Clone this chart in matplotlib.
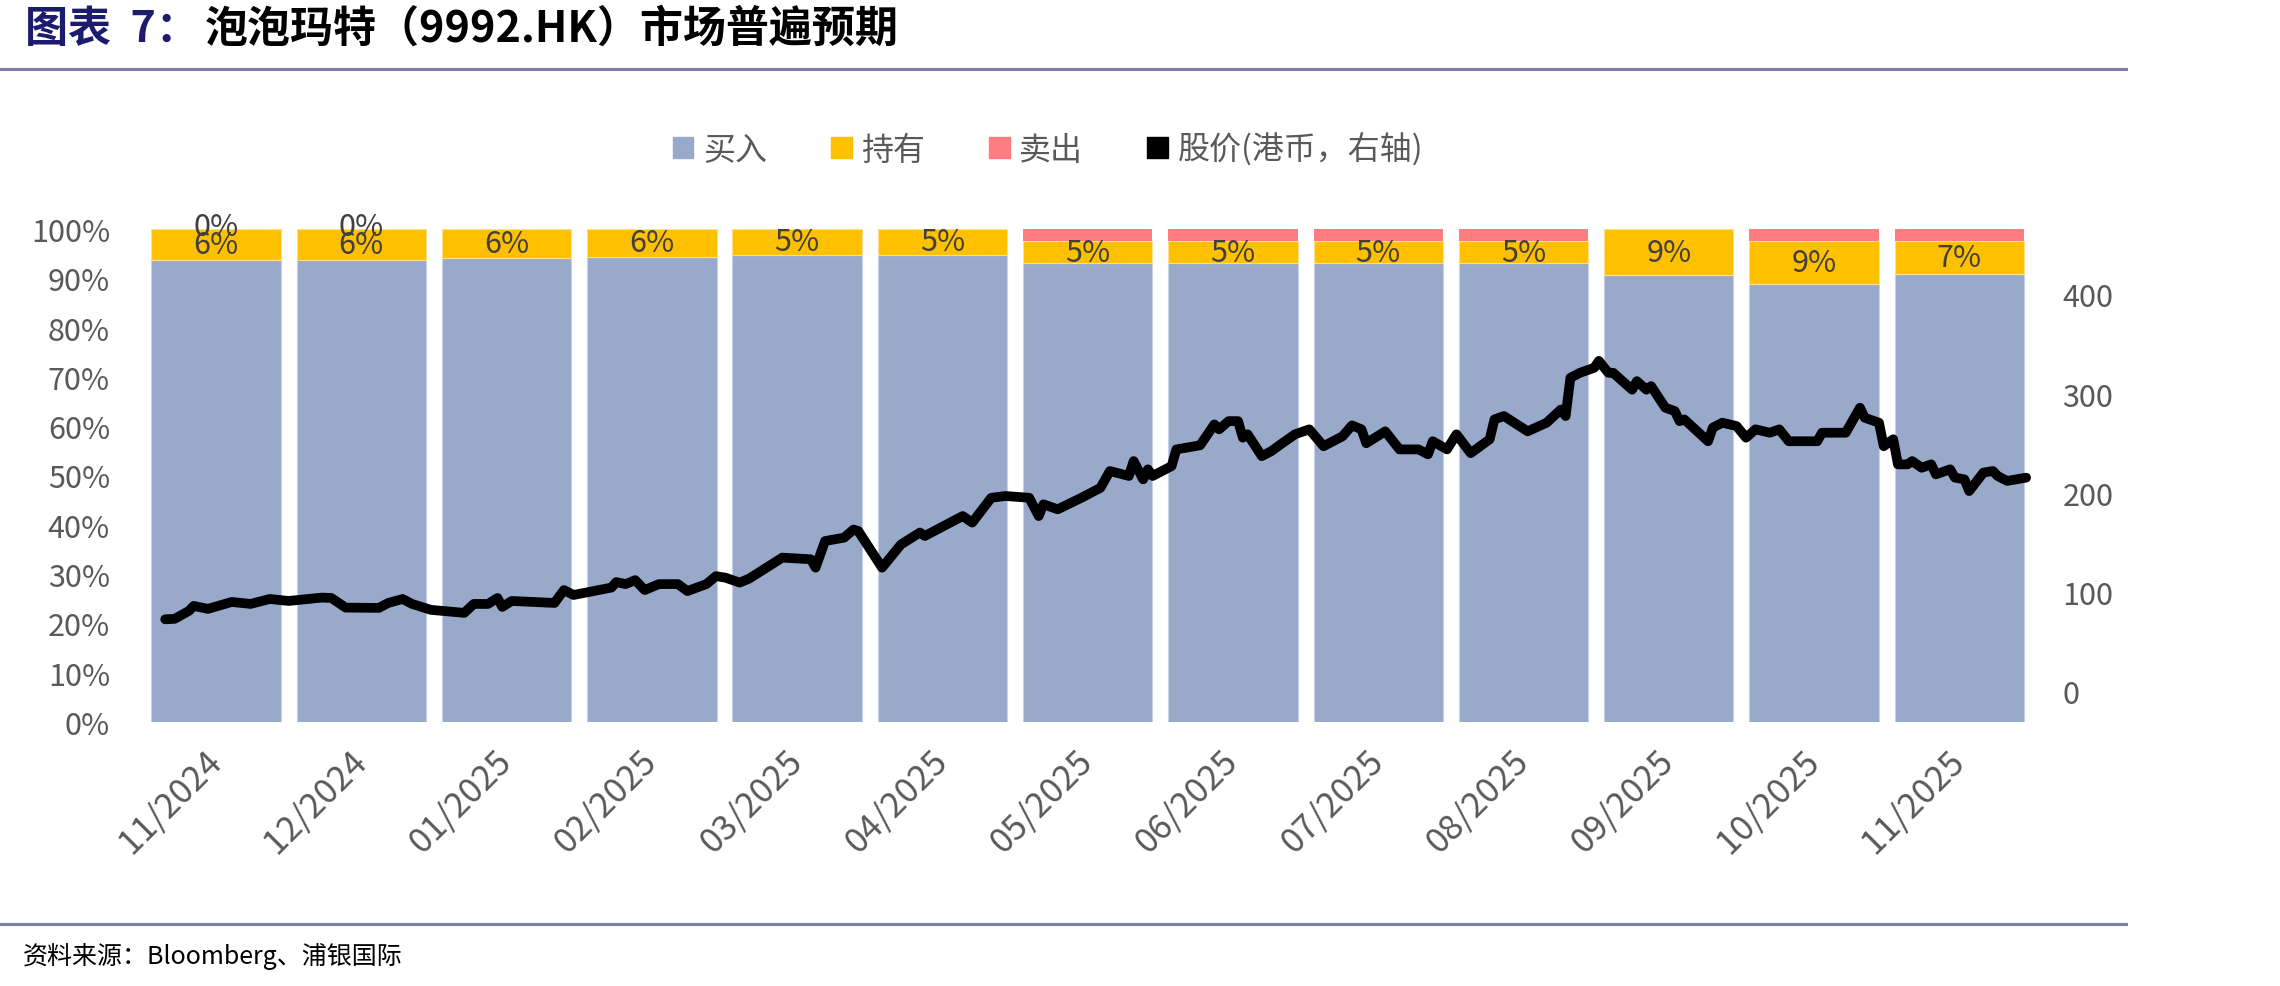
import matplotlib
matplotlib.use("Agg")
import matplotlib.pyplot as plt
from matplotlib.patches import Patch
from matplotlib.lines import Line2D
import numpy as np

plt.rcParams['font.family'] = ['Noto Sans CJK SC', 'DejaVu Sans']

# monthly rating split (%)
months = ["11/2024", "12/2024", "01/2025", "02/2025", "03/2025", "04/2025", "05/2025",
          "06/2025", "07/2025", "08/2025", "09/2025", "10/2025", "11/2025"]
hold = [6.3, 6.3, 5.9, 5.6, 5.2, 5.2, 4.6, 4.6, 4.6, 4.6, 9.4, 8.8, 6.7]
sell = [0, 0, 0, 0, 0, 0, 2.4, 2.4, 2.4, 2.4, 0, 2.4, 2.4]
buy = [100 - h - s for h, s in zip(hold, sell)]
sell_labels = ["0%", "0%", "", "", "", "", "", "", "", "", "", "", ""]

# share price (HKD), days counted from 2024-11-01
price_day = [0, 2, 5, 6, 9, 14, 18, 22, 26, 33, 35, 38, 45, 47, 50, 52, 56, 63, 65, 68,
             70, 71, 73, 82, 84, 86, 94, 95, 97, 99, 101, 104, 108, 110, 114, 116, 118, 121, 123, 130,
             136, 137, 139, 143, 145, 146, 151, 155, 159, 160, 168, 170, 174, 177, 182, 184, 185, 188, 193, 197,
             199, 203, 204, 206, 207, 208, 212, 213, 218, 221, 222, 224, 226, 227, 228, 231, 233, 235, 238, 241,
             244, 248, 250, 252, 253, 257, 260, 264, 266, 267, 270, 272, 275, 279, 280, 282, 287, 291, 294, 295,
             296, 298, 301, 302, 304, 305, 309, 310, 312, 313, 316, 318, 319, 320, 325, 326, 328, 331, 333, 335,
             338, 340, 342, 348, 349, 354, 357, 358, 361, 362, 364, 365, 367, 368, 370, 372, 373, 376, 377, 379,
             380, 383, 385, 386, 388, 392]
price = [72.5, 73, 81, 86, 83, 90, 88, 93, 91, 94.4, 94, 84.3, 84, 89, 93, 88, 82, 79, 88, 88,
         94, 85, 91, 89, 102, 97, 104.5, 110, 108, 112, 102, 108, 108, 101, 108, 116, 114.5, 109.5, 113.5, 134.7,
         133, 124.6, 151.4, 154.8, 163, 161.5, 124.6, 148, 160, 156.5, 176.6, 170, 195, 196.8, 195, 176.6, 188.4, 183.4, 195, 205,
         222, 217, 232, 213.6, 223.7, 217, 227, 243.8, 247.9, 269, 264, 272.3, 272.3, 255.6, 259, 237, 242, 249, 259, 264,
         247, 257, 268, 264, 250, 262, 243.8, 243.8, 238.8, 252, 243.8, 259, 240, 254, 274, 277.4, 262, 270.7, 284, 277.4,
         316, 321, 326, 333, 321, 321, 304, 312.6, 304, 307.6, 285.8, 282.4, 272.3, 274, 252, 265.7, 270.7, 267.3, 255.6, 264,
         260.6, 264, 252, 252, 260.6, 260.6, 285.8, 275.7, 270.7, 247, 254, 228.7, 228.7, 232, 225.3, 228.7, 218.6, 223.7, 215.3, 213.6,
         201.8, 220.4, 222, 217, 212, 215.3]

c_buy, c_hold, c_sell = '#98A9CA', '#FFC000', '#FF7C80'
tick_grey = '#595959'
navy = '#1c1c6e'
rule = '#7B7FB0'

fig = plt.figure(figsize=(22.8, 9.87), dpi=100)
ax = fig.add_axes([0.0629, 0.2675, 0.8283, 0.4995])

x = np.arange(len(months))
buy_a, hold_a, sell_a = np.array(buy), np.array(hold), np.array(sell)
ax.bar(x, buy_a, width=0.89, color=c_buy, edgecolor='#c8d2e6', linewidth=0.8)
ax.bar(x, hold_a, bottom=buy_a, width=0.89, color=c_hold, edgecolor='#ffe08a', linewidth=0.8)
ax.bar(x, sell_a, bottom=buy_a + hold_a, width=0.89, color=c_sell, linewidth=0)

for i in range(len(months)):
    ax.text(x[i], buy_a[i] + hold_a[i] / 2, f"{hold[i]:.0f}%", ha='center', va='center',
            fontsize=22, color='#404040')
    if sell_labels[i]:
        ax.text(x[i], 100 - sell_a[i] / 2 + 0.6, sell_labels[i], ha='center', va='center',
                fontsize=22, color='#404040')

ax.set_xlim(-0.5, 12.5)
ax.set_ylim(0, 100)
ax.set_yticks(np.arange(0, 101, 10))
ax.set_yticklabels([f"{v}%" for v in range(0, 101, 10)])
ax.set_xticks(x)
ax.set_xticklabels(months, rotation=45, ha='right', va='center', rotation_mode='anchor')
ax.tick_params(axis='y', length=0, pad=24, labelsize=22, labelcolor=tick_grey)
ax.tick_params(axis='x', length=0, pad=24, labelsize=25, labelcolor=tick_grey)
for s in ax.spines.values():
    s.set_visible(False)

# price line on secondary axis
ax2 = ax.twinx()
line_span = (-0.35, 12.46)
line_x = line_span[0] + np.array(price_day) * (line_span[1] - line_span[0]) / price_day[-1]
ax2.plot(line_x, price, color='black', lw=7, solid_joinstyle='round', solid_capstyle='round')
ax2.set_ylim(-31, 466)
ax2.set_yticks([0, 100, 200, 300, 400])
ax2.tick_params(axis='y', length=0, pad=22, labelsize=22, labelcolor=tick_grey)
for s in ax2.spines.values():
    s.set_visible(False)

handles = [Patch(color=c_buy), Patch(color=c_hold), Patch(color=c_sell), Patch(color='black')]
fig.legend(handles, ["买入", "持有", "卖出", "股价(港币，右轴)"], loc='center',
           bbox_to_anchor=(0.4596, 0.848), ncol=4, frameon=False, fontsize=23,
           handlelength=0.65, handleheight=0.65, handletextpad=0.3, columnspacing=2.0,
           labelcolor=tick_grey)

# title, rules and source
fig.text(25 / 2280, 1 - 29 / 987, "图表  7：", color=navy, fontsize=31, weight='bold', va='center')
fig.text(205 / 2280, 1 - 29 / 987, "泡泡玛特（9992.HK）市场普遍预期", color='black',
         fontsize=31, weight='bold', va='center')
fig.add_artist(Line2D([0, 2126 / 2280], [1 - 70 / 987] * 2, color=rule, lw=2.2))
fig.add_artist(Line2D([0, 2126 / 2280], [1 - 925 / 987] * 2, color=rule, lw=2.2))
fig.text(23 / 2280, 1 - 956 / 987, "资料来源：Bloomberg、浦银国际", color='black', fontsize=18, va='center')

fig.savefig("out.png", dpi=100)
